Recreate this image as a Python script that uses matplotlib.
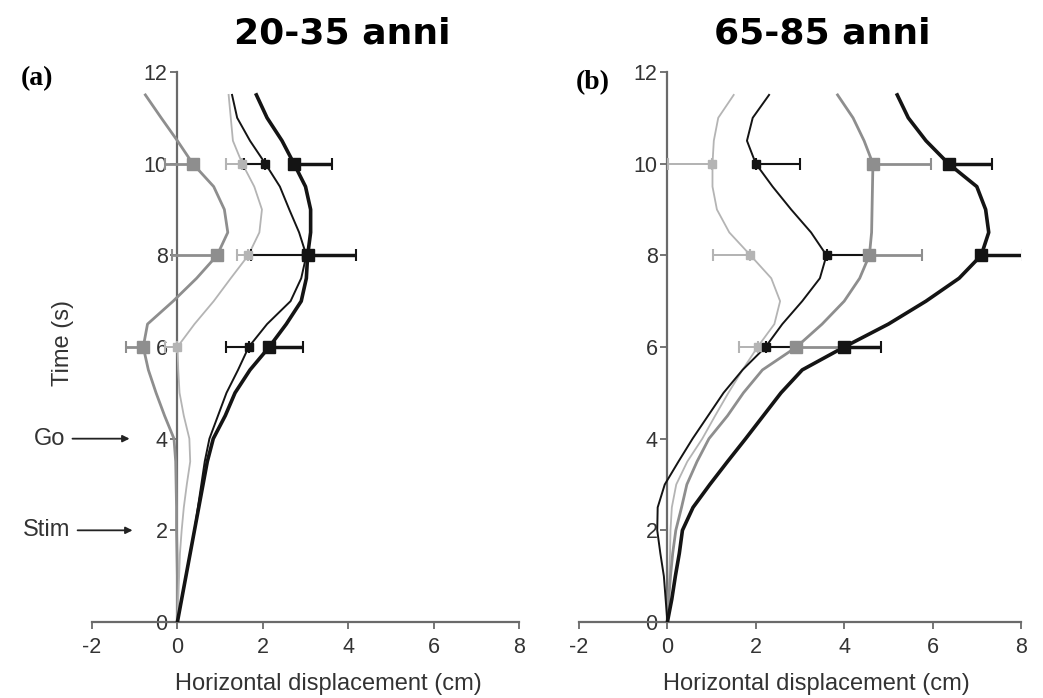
import numpy as np
import matplotlib.pyplot as plt

plt.rcParams['font.family'] = ['Liberation Sans', 'DejaVu Sans']
plt.rcParams['axes.unicode_minus'] = False

# sample times (s) for the traced curves
time_pts = [0, 0.5, 1, 1.5, 2, 2.5, 3, 3.5, 4, 4.5, 5, 5.5,
            6, 6.5, 7, 7.5, 8, 8.5, 9, 9.5, 10, 10.5, 11, 11.5]

# panel (a) 20-35 anni : horizontal displacement (cm)
a_med = [0, 0, 0, -0.01, -0.02, -0.02, -0.03, -0.04, -0.08, -0.3, -0.5, -0.68,
         -0.8, -0.7, -0.1, 0.45, 0.93, 1.18, 1.1, 0.85, 0.36, 0.0, -0.38, -0.75]
a_light = [0, 0.02, 0.04, 0.06, 0.1, 0.15, 0.22, 0.3, 0.28, 0.15, 0.05, 0.02,
           0.0, 0.4, 0.85, 1.25, 1.66, 1.92, 1.98, 1.8, 1.52, 1.3, 1.25, 1.2]
a_thin = [0, 0.1, 0.2, 0.3, 0.4, 0.48, 0.56, 0.64, 0.75, 0.95, 1.15, 1.42,
          1.67, 2.1, 2.65, 2.9, 3.02, 2.85, 2.62, 2.4, 2.06, 1.7, 1.4, 1.28]
a_thick = [0, 0.1, 0.2, 0.3, 0.4, 0.5, 0.6, 0.7, 0.84, 1.12, 1.35, 1.7,
           2.15, 2.55, 2.9, 3.02, 3.05, 3.12, 3.12, 3.0, 2.73, 2.45, 2.1, 1.85]

# panel (b) 65-85 anni
b_light = [0, 0.02, 0.04, 0.06, 0.07, 0.1, 0.2, 0.45, 0.79, 1.08, 1.38, 1.7,
           2.04, 2.42, 2.55, 2.35, 1.88, 1.4, 1.12, 1.02, 1.02, 1.05, 1.15, 1.5]
b_thin = [0, -0.04, -0.08, -0.16, -0.23, -0.22, -0.06, 0.25, 0.57, 0.92, 1.27, 1.7,
          2.22, 2.6, 3.05, 3.45, 3.6, 3.25, 2.8, 2.38, 2.0, 1.8, 1.93, 2.3]
b_med = [0, 0.03, 0.07, 0.12, 0.19, 0.32, 0.44, 0.67, 0.94, 1.36, 1.72, 2.15,
         2.92, 3.5, 4.0, 4.35, 4.57, 4.62, 4.63, 4.64, 4.65, 4.45, 4.2, 3.85]
b_thick = [0, 0.1, 0.18, 0.27, 0.34, 0.58, 0.96, 1.36, 1.77, 2.17, 2.57, 3.05,
           4.0, 5.0, 5.85, 6.6, 7.1, 7.27, 7.2, 7.0, 6.36, 5.85, 5.45, 5.2]

# means with one-sided error bars at 6, 8, 10 s
mark_t = [6, 8, 10]
a_med_m, a_med_e = [-0.8, 0.93, 0.36], [0.41, 1.05, 0.66]
a_light_m, a_light_e = [0.0, 1.66, 1.52], [0.3, 0.26, 0.38]
a_thin_m, a_thin_e = [1.67, 3.02, 2.06], [0.53, 1.3, 0.5]
a_thick_m, a_thick_e = [2.15, 3.05, 2.73], [0.79, 1.13, 0.9]

b_light_m, b_light_e = [2.04, 1.88, 1.02], [0.41, 0.84, 1.0]
b_thin_m, b_thin_e = [2.22, 3.6, 2.0], [0.7, 0.95, 1.0]
b_med_m, b_med_e = [2.92, 4.57, 4.65], [1.0, 1.2, 1.32]
b_thick_m, b_thick_e = [4.0, 7.1, 6.36], [0.84, 0.95, 0.99]

LIGHT = '#b4b4b4'
MED = '#8e8e8e'
DARK = '#141414'


def draw_series(ax, xs, xm, err, color, lw, ms, side):
    ax.plot(xs, time_pts, color=color, lw=lw, solid_joinstyle='round', zorder=3)
    zeros = [0] * len(err)
    xerr = [err, zeros] if side == 'left' else [zeros, err]
    ax.errorbar(xm, mark_t, xerr=xerr, fmt='s', color=color, ms=ms,
                ecolor=color, elinewidth=lw * 0.8 + 0.4, capsize=4, capthick=1.5,
                zorder=4)


def style_axis(ax):
    ax.set_xlim(-2, 8)
    ax.set_ylim(0, 12)
    ax.spines['left'].set_position(('data', 0))
    ax.spines['right'].set_visible(False)
    ax.spines['top'].set_visible(False)
    for s in ['left', 'bottom']:
        ax.spines[s].set_color('#6a6a6a')
        ax.spines[s].set_linewidth(1.6)
    ax.set_xticks([-2, 0, 2, 4, 6, 8])
    ax.set_yticks([0, 2, 4, 6, 8, 10, 12])
    ax.tick_params(direction='out', length=5, width=1.3, color='#6a6a6a',
                   labelsize=15.5, labelcolor='#333333')
    ax.tick_params(axis='x', pad=6)
    ax.tick_params(axis='y', pad=2)


fig = plt.figure(figsize=(10.43, 6.98), dpi=100)
ax_a = fig.add_axes([92 / 1043, 76 / 698, 427 / 1043, 550 / 698])
ax_b = fig.add_axes([579 / 1043, 76 / 698, 442 / 1043, 550 / 698])

for ax in (ax_a, ax_b):
    style_axis(ax)

# panel (a)
draw_series(ax_a, a_med, a_med_m, a_med_e, MED, 2.0, 8, 'left')
draw_series(ax_a, a_light, a_light_m, a_light_e, LIGHT, 1.3, 5.5, 'left')
draw_series(ax_a, a_thin, a_thin_m, a_thin_e, DARK, 1.4, 5.5, 'left')
draw_series(ax_a, a_thick, a_thick_m, a_thick_e, DARK, 2.6, 8, 'right')

# panel (b)
draw_series(ax_b, b_light, b_light_m, b_light_e, LIGHT, 1.3, 5.5, 'left')
draw_series(ax_b, b_med, b_med_m, b_med_e, MED, 2.0, 8, 'right')
draw_series(ax_b, b_thin, b_thin_m, b_thin_e, DARK, 1.4, 5.5, 'right')
draw_series(ax_b, b_thick, b_thick_m, b_thick_e, DARK, 2.6, 8, 'right')

for ax, xc in ((ax_a, 0.553), (ax_b, 0.536)):
    ax.set_xlabel('Horizontal displacement (cm)', fontsize=17, color='#333333')
    ax.xaxis.set_label_coords(xc, -0.093)

fig.text(63 / 1043, 1 - 343 / 698, 'Time (s)', rotation=90, ha='center',
         va='center', fontsize=17, color='#333333')

arrow = dict(arrowstyle='-|>', color='#222222', lw=1.3, mutation_scale=10,
             shrinkA=3, shrinkB=0)
ax_a.annotate('Go', xy=(-1.12, 4), xytext=(-2.62, 4), ha='right', va='center',
              fontsize=17, color='#333333', arrowprops=arrow,
              annotation_clip=False)
ax_a.annotate('Stim', xy=(-1.05, 2), xytext=(-2.5, 2), ha='right', va='center',
              fontsize=17, color='#333333', arrowprops=arrow,
              annotation_clip=False)

# titles and panel letters
fig.text(342 / 1043, 1 - 43 / 698, '20-35 anni', ha='center', va='baseline',
         fontsize=26, fontweight='bold', family='DejaVu Sans')
fig.text(822 / 1043, 1 - 43 / 698, '65-85 anni', ha='center', va='baseline',
         fontsize=26, fontweight='bold', family='DejaVu Sans')
fig.text(37 / 1043, 1 - 79 / 698, '(a)', ha='center', va='center',
         fontsize=20, fontweight='bold', family='Liberation Serif')
fig.text(593 / 1043, 1 - 83 / 698, '(b)', ha='center', va='center',
         fontsize=20, fontweight='bold', family='Liberation Serif')

fig.savefig('out.png', dpi=100, facecolor='white')
